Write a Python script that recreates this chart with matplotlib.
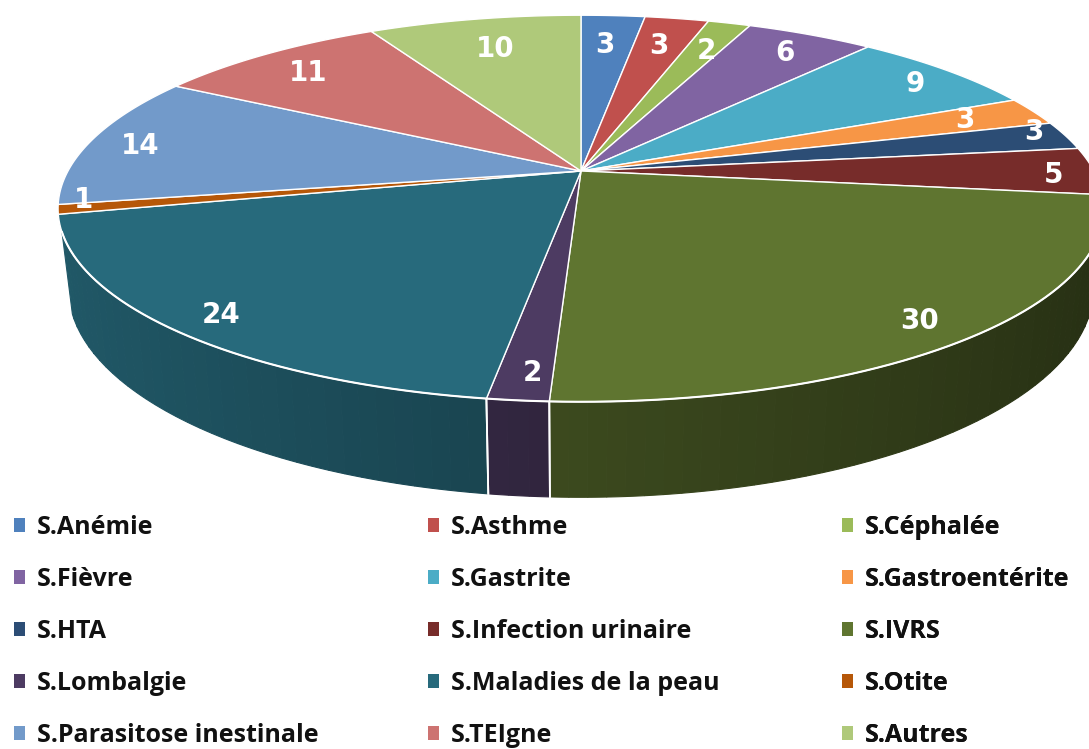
import numpy as np
import matplotlib
matplotlib.use("Agg")
import matplotlib.pyplot as plt
from matplotlib.patches import Patch

categories = ["S.Anémie", "S.Asthme", "S.Céphalée", "S.Fièvre", "S.Gastrite",
              "S.Gastroentérite", "S.HTA", "S.Infection urinaire", "S.IVRS",
              "S.Lombalgie", "S.Maladies de la peau", "S.Otite",
              "S.Parasitose inestinale", "S.TEIgne", "S.Autres"]
values = [3, 3, 2, 6, 9, 3, 3, 5, 30, 2, 24, 1, 14, 11, 10]
colors = ["#4f81bd", "#c0504d", "#9bbb59", "#8064a2", "#4bacc6", "#f79646", "#2c4d75",
          "#772c2a", "#5f7530", "#4d3b62", "#276a7c", "#b65708", "#729aca", "#cd7371",
          "#afc97a"]
label_radius = [.80, .81, .81, .87, .895, .85, .955, .92, .893, .89, .904, .955, .90, .85, .80]
label_nudge = [(-3, 2), (-2, 2), (2, 3), (1, 3), (3, 4), (-4, 0), (-10, -5), (1, 4),
               (-1, 3), (6, 3), (2, 3), (1, -8), (0, 3), (-1, 3), (2, 3)]

# perspective of the pie disc, in figure pixels
CX, CY, A, B, C = 581, 171, 186, 513, 0.194
DEPTH, SHRINK = 77, 0.98
WALL_RIGHT, WALL_LEFT = 0.60 * np.pi, 1.40 * np.pi


def top(theta, r=1.0):
    u, v = r * np.sin(theta), r * np.cos(theta)
    w = 1 + C * v
    return CX + B * u / w, CY - A * v / w


def bottom(theta):
    x, y = top(theta)
    w = 1 + C * np.cos(theta)
    return CX + (x - CX) * SHRINK, y + DEPTH / w


def shade(color, theta):
    f = 0.62 - 0.22 * np.sin(theta)
    return tuple(c * f for c in matplotlib.colors.to_rgb(color))


fig = plt.figure(figsize=(10.89, 7.49), dpi=100, facecolor="white")
ax = fig.add_axes([0, 0, 1, 1])
ax.set_xlim(0, 1089)
ax.set_ylim(749, 0)
ax.axis("off")

edges = np.cumsum([0] + values) / sum(values) * 2 * np.pi

# side wall (front part only)
for i, col in enumerate(colors):
    a0, a1 = max(edges[i], WALL_RIGHT), min(edges[i + 1], WALL_LEFT)
    if a1 <= a0:
        continue
    n = max(2, int((a1 - a0) / 0.03) + 1)
    th = np.linspace(a0, a1, n)
    for t0, t1 in zip(th[:-1], th[1:]):
        tt = np.linspace(t0, t1, 6)
        xt, yt = top(tt)
        xb, yb = bottom(tt)
        ax.fill(np.r_[xt, xb[::-1]], np.r_[yt, yb[::-1]],
                color=shade(col, (t0 + t1) / 2), lw=0.8, zorder=1)
    for t in (edges[i], edges[i + 1]):
        if WALL_RIGHT < t < WALL_LEFT:
            xt, yt = top(t)
            xb, yb = bottom(t)
            ax.plot([xt, xb], [yt, yb], color="white", lw=1.3, zorder=2)

# top face
for i, col in enumerate(colors):
    th = np.linspace(edges[i], edges[i + 1], max(4, int((edges[i + 1] - edges[i]) / 0.005)))
    x, y = top(th)
    ax.fill(np.r_[CX, x], np.r_[CY, y], facecolor=col, edgecolor="white",
            lw=1.0, joinstyle="round", zorder=3)

# brighter rim along the front
rim = np.linspace(WALL_RIGHT, WALL_LEFT, 300)
ax.plot(*top(rim), color="white", lw=1.5, zorder=4)

# data labels
for i, val in enumerate(values):
    mid = (edges[i] + edges[i + 1]) / 2
    x, y = top(mid, label_radius[i])
    dx, dy = label_nudge[i]
    ax.text(x + dx, y + dy, str(val), color="white", fontsize=20, fontweight="bold",
            family="DejaVu Sans", ha="center", va="center", zorder=5)

# legend, three aligned columns
for col_i, x0 in enumerate([14, 428, 842]):
    idx = range(col_i, len(categories), 3)
    handles = [Patch(facecolor=colors[k], edgecolor="none", label=categories[k]) for k in idx]
    leg = ax.legend(handles=handles, loc="upper left", bbox_to_anchor=(x0, 515),
                    bbox_transform=ax.transData, frameon=False, borderpad=0, borderaxespad=0,
                    handlelength=0.44, handleheight=0.44, handletextpad=0.48,
                    labelspacing=1.08, prop={"family": "Open Sans", "weight": "bold", "size": 18})
    for t in leg.get_texts():
        t.set_color("#111111")
    ax.add_artist(leg)

fig.savefig("out.png", dpi=100, facecolor="white")
